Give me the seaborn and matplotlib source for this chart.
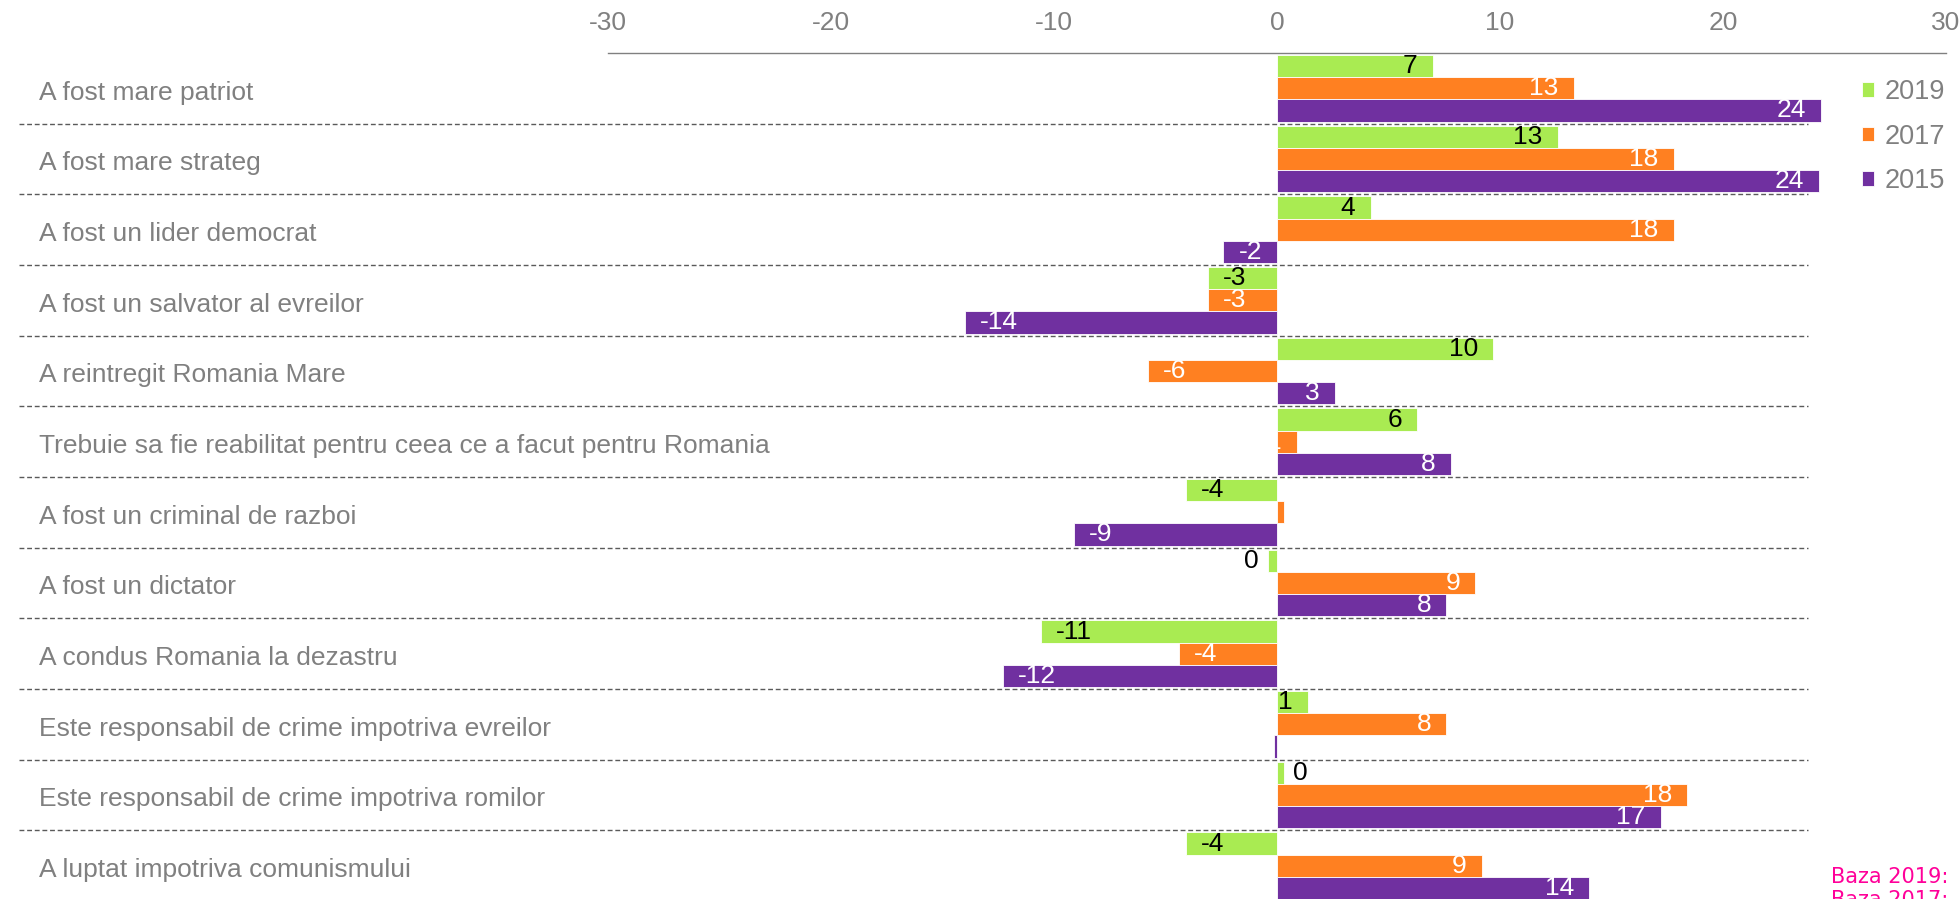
import numpy as np
import pandas as pd
import matplotlib
matplotlib.use("Agg")
import matplotlib.pyplot as plt
import matplotlib.transforms as mtransforms
import seaborn as sns

categories = [
    "A fost mare patriot",
    "A fost mare strateg",
    "A fost un lider democrat",
    "A fost un salvator al evreilor",
    "A reintregit Romania Mare",
    "Trebuie sa fie reabilitat pentru ceea ce a facut pentru Romania",
    "A fost un criminal de razboi",
    "A fost un dictator",
    "A condus Romania la dezastru",
    "Este responsabil de crime impotriva evreilor",
    "Este responsabil de crime impotriva romilor",
    "A luptat impotriva comunismului",
]
years = ["2019", "2017", "2015"]
vals_2019 = [7.0, 12.6, 4.2, -3.1, 9.7, 6.3, -4.1, -0.4, -10.6, 1.4, 0.3, -4.1]
vals_2017 = [13.3, 17.8, 17.8, -3.1, -5.8, 0.9, 0.3, 8.9, -4.4, 7.6, 18.4, 9.2]
vals_2015 = [24.4, 24.3, -2.4, -14.0, 2.6, 7.8, -9.1, 7.6, -12.3, -0.15, 17.2, 14.0]
xticks = [-30, -20, -10, 0, 10, 20, 30]

palette = {"2019": "#A9EB52", "2017": "#FF8021", "2015": "#7030A0"}
label_colors = {"2019": "black", "2017": "white", "2015": "white"}
grey = "#808080"

sns.set_style("white")
plt.rcParams["font.family"] = ["Liberation Sans", "DejaVu Sans"]

df = pd.DataFrame({
    "cat": categories * 3,
    "year": np.repeat(years, len(categories)),
    "val": vals_2019 + vals_2017 + vals_2015,
})

fig = plt.figure(figsize=(19.6, 8.99), dpi=100)
ax = fig.add_axes([608 / 1960, -2 / 899, 1338 / 1960, 848 / 899])
sns.barplot(data=df, y="cat", x="val", hue="year", hue_order=years, order=categories,
            palette=palette, orient="h", width=0.94, saturation=1, errorbar=None,
            edgecolor="white", linewidth=0.6, ax=ax)

ax.set_xlim(-30, 30)
ax.set_ylim(len(categories) - 0.5, -0.5)
ax.set_xticks(xticks)
ax.set_xticklabels([str(t) for t in xticks])
ax.xaxis.tick_top()
ax.tick_params(axis="x", top=True, bottom=False, direction="out", length=5,
               width=1, color=grey, labelcolor=grey, labelsize=19, pad=8)
ax.set_yticks([])
ax.set_xlabel("")
ax.set_ylabel("")
sns.despine(ax=ax, top=False, bottom=True, left=True, right=True)
ax.spines["top"].set_color(grey)
ax.spines["top"].set_linewidth(1)

# value labels: inside end, outside if the bar is too short
for year, cont in zip(years, ax.containers):
    for p in cont.patches:
        v = p.get_width()
        yc = p.get_y() + p.get_height() / 2
        txt = f"{int(round(v))}"
        if abs(v) >= 0.8:
            off, ha = (-11, "right") if v > 0 else (11, "left")
        else:
            off, ha = (7, "left") if v > 0 else (-7, "right")
        ax.annotate(txt, (v, yc), xytext=(off, 0), textcoords="offset points",
                    ha=ha, va="center", fontsize=19, color=label_colors[year])

# category labels on the left
trans = mtransforms.blended_transform_factory(fig.transFigure, ax.transData)
for i, c in enumerate(categories):
    ax.text(0.02, i + 0.06, c, transform=trans, ha="left", va="center",
            fontsize=19, color=grey)

# dashed separators
ax.hlines([i + 0.5 for i in range(len(categories) - 1)], -56.4, 23.8, colors="#5a5a5a",
          linewidth=1, linestyles=(0, (3.5, 2)), clip_on=False)

handles, labels = ax.get_legend_handles_labels()
ax.legend(handles, labels, loc="upper left", bbox_to_anchor=(0.950, 0.912),
          bbox_transform=fig.transFigure, frameon=False, fontsize=19.5,
          labelcolor=grey, handlelength=0.45, handleheight=0.45, handletextpad=0.4,
          labelspacing=0.68, borderpad=0, borderaxespad=0)

fig.text(0.934, 1 - 867 / 899, "Baza 2019:\nBaza 2017:", ha="left", va="top",
         fontsize=15, color="#FF0099", family=["DejaVu Sans"])

fig.savefig("out.png", dpi=100)
